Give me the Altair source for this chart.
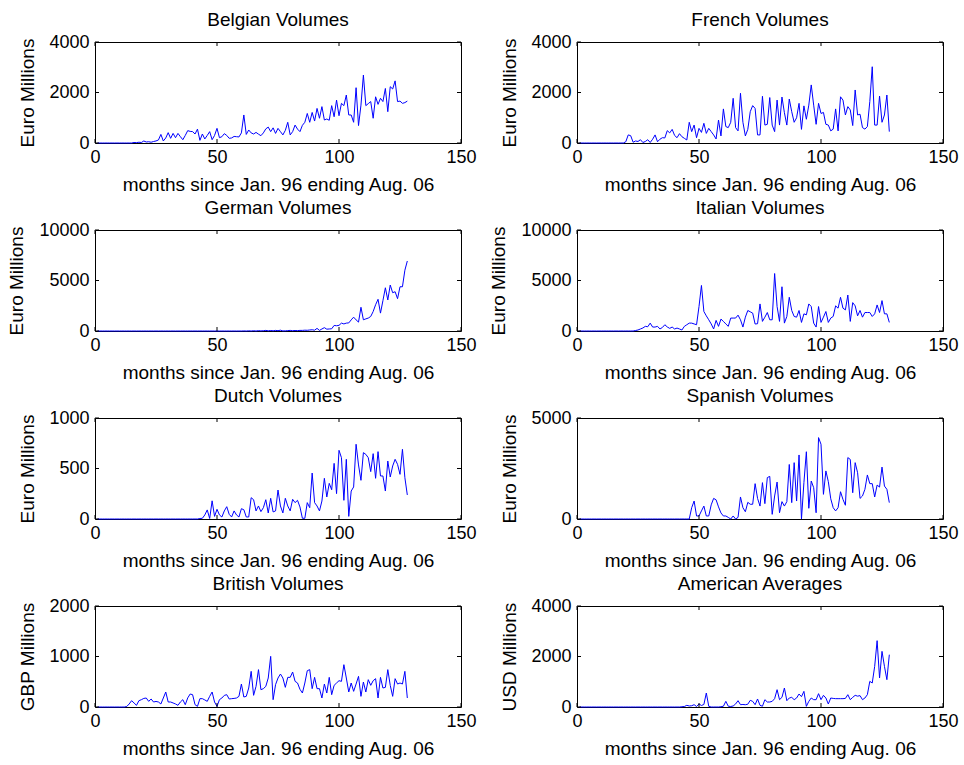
import altair as alt
import pandas as pd

# months since Jan. 96 (1 .. 128 = Aug. 06)
months = list(range(1, 129))

belgian = [0]*15 + [
    20, 15, 30, 20, 80, 40, 50, 30, 60, 80, 120,
    340, 80, 200, 410, 185, 380, 210, 380, 250, 130, 300, 490, 460, 450, 356, 550, 105, 356, 160, 300,
    450, 130, 300, 580, 210, 250, 370, 300, 185, 200, 260, 250, 240, 400, 1110, 340, 515, 400, 356, 420,
    350, 290, 400, 560, 630, 450, 600, 380, 580, 450, 320, 500, 820, 320, 450, 710, 550, 450, 700, 820,
    1170, 820, 1210, 870, 1370, 980, 1440, 910, 950, 900, 1480, 1040, 1700, 1080, 1570, 1480, 1900, 1110,
    1110, 820, 2190, 690, 1500, 2690, 1480, 1560, 1640, 980, 1830, 1530, 1770, 1640, 2160, 1240, 2230,
    2140, 2460, 1640, 1660, 1570, 1600, 1660]

french = [0]*19 + [
    50, 320, 290, 30, 80, 60, 130, 20, 60, 130, 20, 150, 320, 50, 150, 210, 200, 490, 400, 540, 300,
    210, 370, 250, 185, 120, 820, 450, 710, 210, 580, 420, 780, 380, 580, 450, 320, 160, 910, 280, 1350,
    650, 610, 820, 1770, 610, 480, 1970, 820, 280, 540, 1240, 1480, 1370, 320, 320, 1850, 710, 740, 1800,
    710, 450, 1700, 710, 1820, 1200, 710, 1740, 1240, 820, 1000, 1570, 540, 1470, 940, 1500, 2300, 1500,
    740, 1570, 1170, 1210, 740, 710, 480, 550, 1350, 480, 1830, 1700, 1110, 1440, 1310, 690, 2100, 1110,
    1140, 610, 550, 650, 1640, 3020, 710, 710, 1860, 820, 1110, 1900, 450]

german = [0]*60 + [
    10, 0, 20, 0, 30, 0, 40, 10, 30, 60, 20, 50, 20, 60, 30, 80, 10, 20, 40, 60, 30, 50, 40, 60, 60, 80,
    70, 100, 120, 80, 260, 60, 200, 330, 180, 200, 220, 550, 520, 560, 780, 700, 780, 800, 1100, 1370,
    1100, 880, 2350, 1110, 1200, 1280, 1440, 1930, 2600, 3140, 1770, 3000, 4280, 3070, 4550, 3790, 3890,
    3200, 4380, 4380, 6020, 6930]

italian = [0]*23 + [
    50, 100, 200, 300, 460, 420, 780, 390, 390, 460, 200, 350, 620, 400, 260, 390, 200, 290, 200, 100,
    460, 620, 780, 780, 700, 620, 2420, 4510, 1930, 1500, 1110, 700, 200, 1050, 460, 1180, 950, 700, 460,
    1280, 1280, 1280, 1570, 1110, 390, 1370, 2030, 1900, 1770, 690, 720, 2680, 950, 1370, 1830, 1110,
    1110, 5690, 2420, 950, 4380, 780, 1440, 3340, 2030, 1440, 1370, 2030, 850, 1700, 1600, 2680, 2420,
    780, 390, 2420, 850, 1370, 1930, 850, 1280, 1440, 2490, 2260, 3340, 2260, 2090, 3560, 950, 2810, 2490,
    1500, 2030, 1370, 1830, 1830, 1830, 1440, 1700, 2580, 1830, 3010, 1700, 1700, 850]

dutch = [0]*42 + [
    5, 7, 40, 90, 5, 180, 26, 96, 40, 20, 80, 122, 46, 20, 80, 40, 20, 102, 92, 20, 20, 211, 191, 80, 129,
    73, 112, 191, 60, 205, 70, 80, 287, 129, 60, 205, 129, 80, 195, 162, 185, 119, 7, 7, 162, 112, 455,
    162, 129, 80, 178, 403, 218, 353, 290, 551, 251, 680, 607, 185, 591, 26, 277, 317, 740, 535, 383, 657,
    640, 607, 469, 647, 403, 667, 426, 426, 277, 574, 416, 525, 591, 541, 442, 690, 409, 238]

spanish = [0]*46 + [
    560, 890, 150, 150, 400, 640, 150, 150, 700, 1020, 950, 600, 300, 150, 150, 80, 0, 150, 0, 80, 1090,
    560, 360, 825, 730, 730, 1750, 1020, 640, 1800, 760, 2050, 2110, 230, 1140, 1830, 310, 860, 640, 860,
    2700, 810, 2790, 890, 3170, 0, 1800, 3330, 530, 1880, 1550, 310, 4030, 3700, 1220, 2380, 1850, 1000,
    560, 400, 560, 1350, 970, 680, 3040, 2950, 1300, 2790, 2290, 1020, 1140, 1470, 2180, 1750, 1750, 1090,
    1680, 1580, 2570, 1630, 1470, 810]

british = [0]*12 + [
    10, 60, 125, 80, 33, 125, 145, 170, 178, 112, 158, 99, 110, 99, 60, 178, 297, 99, 99, 80, 60, 33, 100,
    145, 46, 180, 257, 244, 46, 13, 165, 165, 140, 112, 211, 297, 99, 13, 145, 178, 230, 244, 158, 165,
    170, 178, 211, 455, 198, 211, 376, 706, 231, 409, 740, 343, 363, 409, 574, 1003, 145, 442, 574, 653,
    574, 389, 587, 587, 693, 508, 475, 350, 277, 475, 719, 740, 363, 587, 363, 363, 178, 455, 277, 587,
    244, 429, 475, 521, 508, 838, 574, 297, 475, 310, 455, 607, 211, 495, 297, 541, 429, 521, 561, 178,
    587, 376, 389, 740, 429, 211, 561, 455, 475, 455, 706, 178]

american = [0]*42 + [
    10, 20, 66, 40, 50, 92, 20, 119, 60, 100, 554, 26, 0, 0, 0, 0, 10, 30, 224, 30, 20, 40, 120, 250, 92,
    100, 90, 110, 264, 224, 92, 317, 66, 30, 290, 198, 198, 224, 330, 686, 290, 383, 752, 250, 356, 383,
    290, 356, 515, 409, 620, 26, 224, 356, 290, 290, 528, 290, 462, 356, 119, 356, 340, 330, 330, 330,
    330, 340, 488, 290, 383, 462, 430, 450, 290, 356, 488, 1016, 950, 1610, 2627, 1148, 2204, 1610, 1082,
    2072]

x_ticks = [0, 50, 100, 150]
x_title = "months since Jan. 96 ending Aug. 06"

panel_titles = ["Belgian Volumes", "French Volumes", "German Volumes", "Italian Volumes",
                "Dutch Volumes", "Spanish Volumes", "British Volumes", "American Averages"]
panel_series = [belgian, french, german, italian, dutch, spanish, british, american]
panel_ytitles = ["Euro Millions"] * 6 + ["GBP Millions", "USD Millions"]
panel_yticks = [[0, 2000, 4000], [0, 2000, 4000], [0, 5000, 10000], [0, 5000, 10000],
                [0, 500, 1000], [0, 5000], [0, 1000, 2000], [0, 2000, 4000]]

FONT = "Liberation Sans"
W, H = 366, 101
TICK = 4
BLUE = "#0000ff"


def panel(title, values, ytitle, yticks):
    df = pd.DataFrame({"month": months, "value": values})
    ndig = max(len(str(t)) for t in yticks)
    xs = alt.Scale(domain=[x_ticks[0], x_ticks[-1]], nice=False, zero=False)
    ys = alt.Scale(domain=[yticks[0], yticks[-1]], nice=False, zero=False)
    xax = alt.Axis(values=x_ticks, title=x_title, titleY=47, titleBaseline="alphabetic",
                   format="d")
    yax = alt.Axis(values=yticks, title=ytitle, titleX=-(19.5 + 10.6 * ndig),
                   titleBaseline="alphabetic", format="d")
    X = alt.X("month:Q", scale=xs, axis=xax)
    Y = alt.Y("value:Q", scale=ys, axis=yax)
    line = alt.Chart(df).mark_line(color=BLUE, strokeWidth=1).encode(x=X, y=Y)
    xt = pd.DataFrame({"month": x_ticks})
    yt = pd.DataFrame({"value": yticks})
    top = alt.Chart(xt).mark_rule(color="black", strokeWidth=1).encode(
        x=X, y=alt.value(0), y2=alt.value(TICK))
    bot = alt.Chart(xt).mark_rule(color="black", strokeWidth=1).encode(
        x=X, y=alt.value(H - TICK), y2=alt.value(H))
    lft = alt.Chart(yt).mark_rule(color="black", strokeWidth=1).encode(
        y=Y, x=alt.value(0), x2=alt.value(TICK))
    rgt = alt.Chart(yt).mark_rule(color="black", strokeWidth=1).encode(
        y=Y, x=alt.value(W - TICK), x2=alt.value(W))
    return alt.layer(line, top, bot, lft, rgt).properties(
        width=W, height=H,
        title=alt.TitleParams(title, font=FONT, fontSize=19, fontWeight="normal", color="black",
                              anchor="middle", frame="group", baseline="alphabetic",
                              offset=0, dy=12),
    )


charts = [panel(t, s, yt, tk) for t, s, yt, tk in
          zip(panel_titles, panel_series, panel_ytitles, panel_yticks)]
chart = alt.concat(*charts, columns=2, spacing={"row": 87, "column": 116},
                   bounds="flush").properties(
    padding={"left": 7, "top": 10, "right": 5, "bottom": 5},
    background="white",
).configure_view(
    stroke="black", strokeWidth=1
).configure_axis(
    domain=False, grid=False, ticks=False, tickSize=0,
    labelFont=FONT, labelFontSize=18, labelColor="black",
    titleFont=FONT, titleFontSize=19, titleFontWeight="normal", titleColor="black",
    labelFlush=False, labelOverlap=False,
).configure_axisX(labelPadding=5).configure_axisY(labelPadding=6)

chart.save("out.html", embed_options={"renderer": "svg", "actions": False})
